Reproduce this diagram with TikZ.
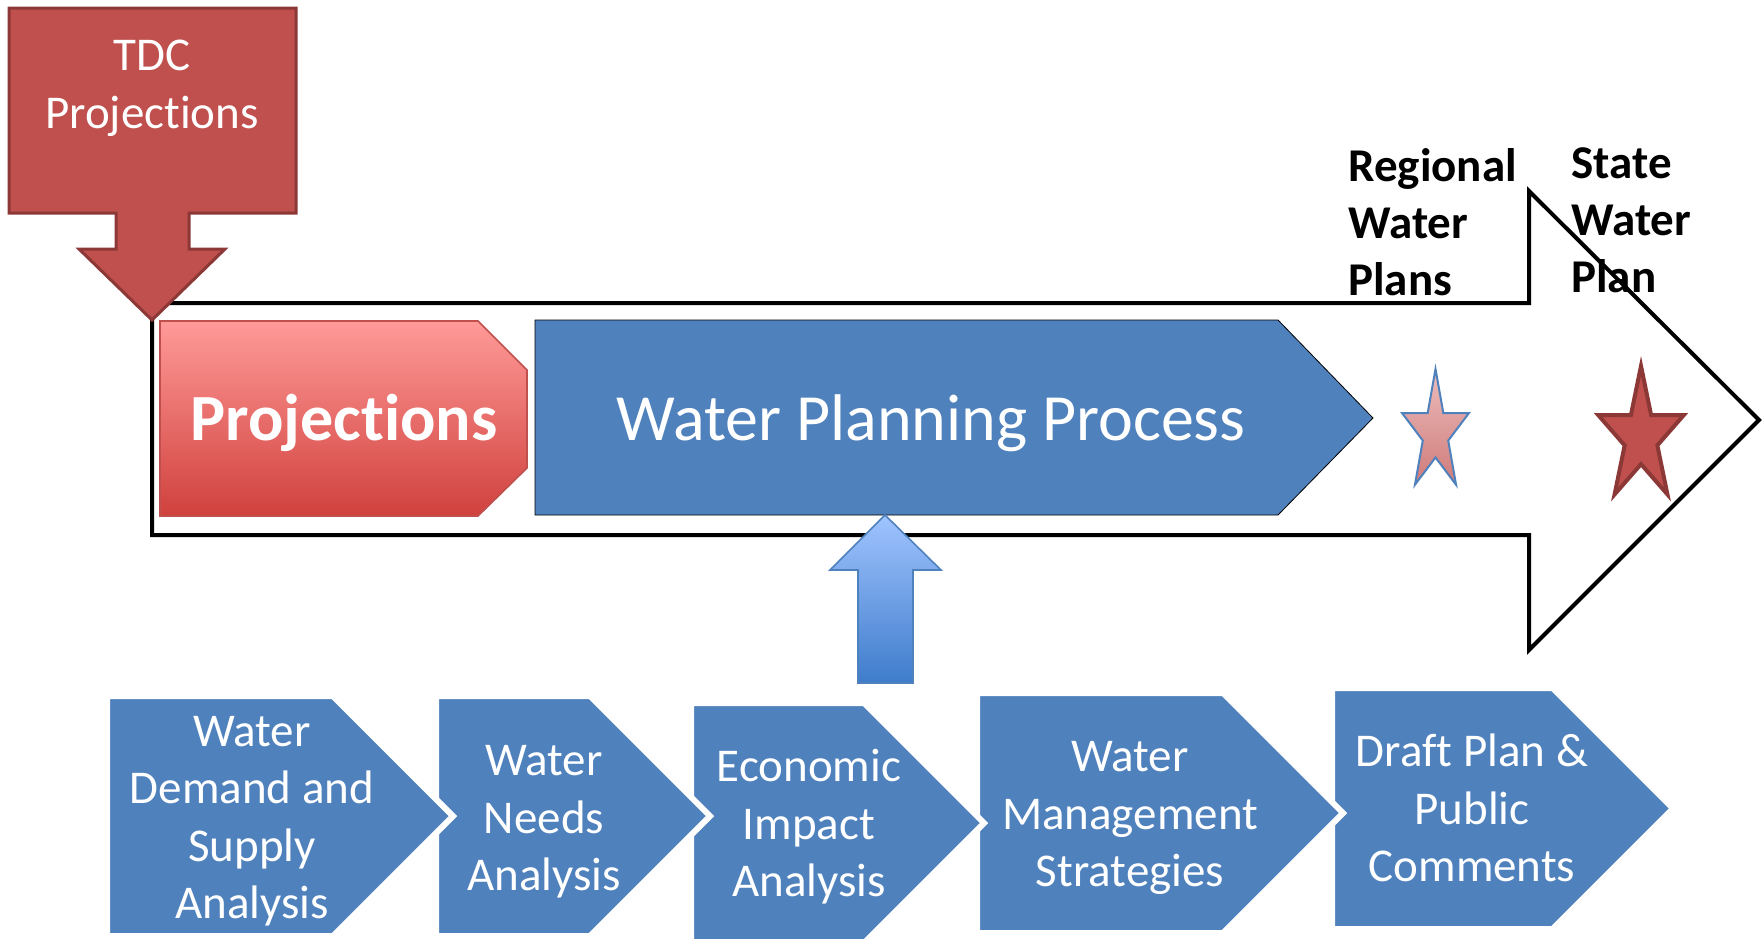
\documentclass[tikz,border=0pt]{standalone}
\usepackage{fontspec}
\setmainfont{Carlito}[Ligatures={NoCommon,NoRare,NoContextual}]
\usepackage{tikz}
\usetikzlibrary{positioning}
\usepackage{xcolor}

\definecolor{tdcred}{HTML}{C0504D}
\definecolor{tdcedge}{HTML}{8C3836}
\definecolor{projtop}{HTML}{FF9A98}
\definecolor{projbot}{HTML}{D0413D}
\definecolor{wppblue}{HTML}{4F81BD}
\definecolor{uptop}{HTML}{A0C4FF}
\definecolor{upbot}{HTML}{3E7CCB}
\definecolor{startop}{HTML}{EBBDBC}
\definecolor{starbot}{HTML}{CF7B79}

% five point star: centre x, centre y, radius x, radius y
\newcommand{\starpath}[4]{(#1,#2-#4)
  \foreach \ang/\rad in {36/0.382,72/1,108/0.382,144/1,180/0.382,216/1,252/0.382,288/1,324/0.382}
    {-- ({#1+#3*\rad*sin(\ang)},{#2-#4*\rad*cos(\ang)})} -- cycle}

\begin{document}
\begin{tikzpicture}[
    x=0.5pt, y=-0.5pt,
    outline/.style={draw=black, line width=2pt, line join=miter},
    blockred/.style={fill=tdcred, draw=tdcedge, line width=1.5pt, line join=miter},
    projbox/.style={top color=projtop, bottom color=projbot, draw=tdcred, line width=0.8pt},
    processbox/.style={fill=wppblue},
    uparrow/.style={top color=uptop, bottom color=upbot, draw=wppblue, line width=0.8pt},
    stepbox/.style={fill=wppblue, draw=white, line width=3pt, line join=miter},
    steptext/.style={text=white, align=center, inner sep=0pt,
      font=\fontsize{23.5}{28.75}\selectfont},
    plantext/.style={text=black, align=left, inner sep=0pt, anchor=west,
      font=\bfseries\fontsize{23.5}{28.5}\selectfont},
    smallstar/.style={top color=startop, bottom color=starbot, draw=wppblue, line width=1pt},
    bigstar/.style={fill=tdcred, draw=tdcedge, line width=2pt, line join=miter}
  ]
  \useasboundingbox (0,0) rectangle (1762,938);
  % big outline arrow
  \draw[outline] (152,303) -- (1529,303) -- (1529,191) -- (1759,420)
    -- (1529,650) -- (1529,535) -- (152,535) -- cycle;
  % TDC block arrow
  \draw[blockred] (9,8) -- (296,8) -- (296,213) -- (189,213) -- (189,249) -- (225,249)
    -- (152,320) -- (79,249) -- (116,249) -- (116,213) -- (9,213) -- cycle;
  \node[text=white, align=center, inner sep=0pt, font=\fontsize{23.5}{29}\selectfont]
    (tdc) at (152,88) {TDC\\Projections};
  % row 1
  \draw[projbox] (160,321) -- (478,321) -- (527,370) -- (527,468) -- (478,516) -- (160,516) -- cycle;
  \node[text=white, anchor=base, inner sep=0pt, font=\bfseries\fontsize{33}{40}\selectfont]
    (proj) at (344,440) {Projections};
  \draw[processbox] (535,320) -- (1278,320) -- (1373,418) -- (1278,515) -- (535,515) -- cycle;
  \node[text=white, anchor=base, inner sep=0pt, font=\fontsize{33}{40}\selectfont]
    (wpp) at (931,440) {Water Planning Process};
  % stars
  \draw[smallstar] \starpath{1435.5}{433}{35}{64};
  \draw[bigstar] \starpath{1641}{437}{45}{71};
  \node[plantext] (rwp) at (1348,222) {Regional\\Water\\Plans};
  \node[plantext] (swp) at (1571,220) {State\\Water\\Plan};
  % up arrow
  \draw[uparrow] (858,683) -- (858,570) -- (830,570) -- (885,515) -- (941,570)
    -- (913,570) -- (913,683) -- cycle;
  % row 2 -- steps, last one first
  \foreach \lft/\tp/\bt/\tip in {1332/688/929/1673, 977/693/933/1343, 691/703/943/984,
      436/696/936/710, 107/696/936/453}
    \draw[stepbox] (\lft,\tp) -- ({\tip-(\bt-\tp)/2},\tp) -- (\tip,{(\tp+\bt)/2})
      -- ({\tip-(\bt-\tp)/2},\bt) -- (\lft,\bt) -- cycle;
  \node[steptext] (demand) at (252,821) {Water\\Demand and\\Supply\\Analysis};
  \node[steptext] (needs) at (544,822) {Water\\Needs\\Analysis};
  \node[steptext] (impact) at (809,827) {Economic\\Impact\\Analysis};
  \node[steptext] (strat) at (1130,818) {Water\\Management\\Strategies};
  \node[steptext] (draft) at (1472,808) {Draft Plan \&\\Public\\Comments};
\end{tikzpicture}
\end{document}
